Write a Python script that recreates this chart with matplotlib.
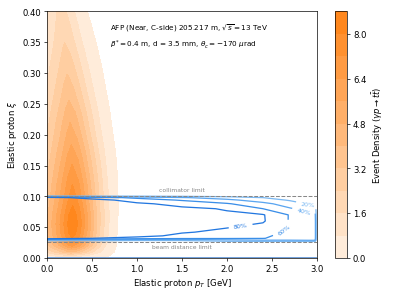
import numpy as np
import matplotlib
matplotlib.use("Agg")
import matplotlib.pyplot as plt
from matplotlib.colors import LinearSegmentedColormap

# ---------------- density (signal) data ----------------
# ridge height of the event density vs xi, and visible pT extent of the density vs xi
dens_xi = [0.0, 0.004, 0.01, 0.02, 0.03, 0.04, 0.055, 0.07, 0.085, 0.1, 0.12, 0.14,
           0.16, 0.18, 0.2, 0.22, 0.238, 0.27, 0.31, 0.335, 0.358, 0.38, 0.4, 0.42]
dens_peak = [0.0, 1.5, 4.0, 6.6, 7.9, 8.45, 8.7, 8.5, 8.0, 7.6, 7.2, 6.7,
             6.2, 5.7, 5.2, 4.8, 4.4, 3.7, 3.0, 2.6, 2.3, 2.1, 1.9, 1.75]
dens_edge_pt = [0.62, 0.70, 0.75, 0.77, 0.775, 0.78, 0.785, 0.79, 0.79, 0.79, 0.787, 0.78,
                0.77, 0.755, 0.735, 0.715, 0.70, 0.66, 0.61, 0.57, 0.53, 0.49, 0.45, 0.42]
# relative pT profile (fraction of the pT extent -> relative density)
prof_frac = [0.0, 0.1, 0.2, 0.3, 0.36, 0.45, 0.55, 0.65, 0.75, 0.85, 0.92, 1.0]
prof_rel = [0.45, 0.60, 0.76, 0.93, 1.0, 0.90, 0.70, 0.48, 0.28, 0.12, 0.05, 0.0]

# ---------------- acceptance (efficiency) data ----------------
eff_pt = [0.0, 0.5, 1.0, 1.5, 2.0, 2.4, 2.7, 2.9, 2.98, 3.0]
eff_xi = [0.020, 0.026, 0.029, 0.032, 0.036, 0.042, 0.050, 0.060, 0.070, 0.080,
          0.088, 0.094, 0.098, 0.101, 0.106]
eff_cols = {
    0.0:  [0, 0, 0.30, 0.95, 0.95, 0.95, 0.95, 0.95, 0.95, 0.95, 0.95, 0.95, 0.90, 0.10, 0],
    0.5:  [0, 0, 0.30, 0.80, 0.93, 0.93, 0.93, 0.93, 0.93, 0.93, 0.93, 0.88, 0.70, 0.10, 0],
    1.0:  [0, 0, 0.25, 0.70, 0.88, 0.90, 0.90, 0.90, 0.90, 0.90, 0.83, 0.72, 0.55, 0.10, 0],
    1.5:  [0, 0, 0.25, 0.65, 0.74, 0.82, 0.86, 0.86, 0.86, 0.83, 0.75, 0.58, 0.42, 0.10, 0],
    2.0:  [0, 0.10, 0.35, 0.63, 0.68, 0.75, 0.81, 0.83, 0.82, 0.79, 0.62, 0.45, 0.30, 0.10, 0],
    2.4:  [0, 0.10, 0.40, 0.61, 0.64, 0.70, 0.75, 0.82, 0.815, 0.60, 0.46, 0.30, 0.20, 0.10, 0],
    2.7:  [0, 0.10, 0.40, 0.50, 0.52, 0.55, 0.589, 0.584, 0.585, 0.42, 0.30, 0.18, 0.10, 0.05, 0],
    2.9:  [0, 0.10, 0.42, 0.45, 0.46, 0.46, 0.46, 0.46, 0.43, 0.33, 0.19, 0.10, 0.05, 0, 0],
    2.98: [0, 0.10, 0.42, 0.45, 0.46, 0.46, 0.46, 0.46, 0.43, 0.33, 0.19, 0.10, 0.05, 0, 0],
    3.0:  [0] * 15,
}
eff_levels = [0.2, 0.4, 0.6, 0.8]
eff_labels = ["20%", "40%", "60%", "80%"]

collimator_xi = 0.1
beam_xi = 0.026

# ---------------- figure ----------------
fig = plt.figure(figsize=(6.4, 4.8), dpi=61.6)
ax = fig.add_axes([0.119, 0.125, 0.685, 0.834])
cax = fig.add_axes([0.849, 0.125, 0.031, 0.834])

cmap = LinearSegmentedColormap.from_list("or", ["#fff1e3", "#ff8214"])

xi_a = np.array(dens_xi)
Z = np.array(dens_peak)[:, None] * np.array(prof_rel)[None, :]
X = np.array(dens_edge_pt)[:, None] * np.array(prof_frac)[None, :]
Y = np.repeat(xi_a[:, None], len(prof_frac), axis=1)
levels = np.arange(0, 9.6, 0.8)
cf = ax.contourf(X, Y, Z, levels=levels, cmap=cmap)

cb = fig.colorbar(cf, cax=cax, ticks=[0.0, 1.6, 3.2, 4.8, 6.4, 8.0])
cb.ax.tick_params(labelsize=10)
cb.set_label(r"Event Density ($\gamma p \rightarrow t\bar{t}$)", fontsize=10)

E = np.array([eff_cols[p] for p in eff_pt]).T
blues = ["#7ab8f2", "#5aa5f0", "#3a8ee8", "#2277e0"]
cs = ax.contour(eff_pt, eff_xi, E, levels=eff_levels, colors=blues, linewidths=1.5)
fmt = dict(zip(eff_levels, eff_labels))
ax.clabel(cs, fmt=fmt, fontsize=7.5, inline=True,
          manual=[(2.9, 0.087), (2.85, 0.073), (2.63, 0.046), (2.15, 0.054)])
ax.axhline(0.0, color="#5d93d6", lw=2.0)

ax.axhline(collimator_xi, color="#888888", ls="--", lw=1.2)
ax.axhline(beam_xi, color="#888888", ls="--", lw=1.2)
ax.text(1.5, 0.107, "collimator limit", color="#888888",
        fontsize=7, ha="center", va="bottom")
ax.text(1.5, 0.018, "beam distance limit", color="#888888",
        fontsize=7, ha="center", va="center")

ax.text(0.70, 0.374, r"AFP (Near, C-side) 205.217 m, $\sqrt{s}=13$ TeV",
        fontsize=8.5, va="center")
ax.text(0.70, 0.3466, r"$\beta^{*}=0.4$ m, d = 3.5 mm, $\theta_c=-170\ \mu$rad",
        fontsize=8.5, va="center")

ax.set_xlim(0, 3.0)
ax.set_ylim(0, 0.4)
ax.tick_params(labelsize=10)
ax.set_xlabel(r"Elastic proton $p_T$ [GeV]", fontsize=10)
ax.set_ylabel(r"Elastic proton $\xi$", fontsize=10)

fig.savefig("out.png", dpi=61.6)
